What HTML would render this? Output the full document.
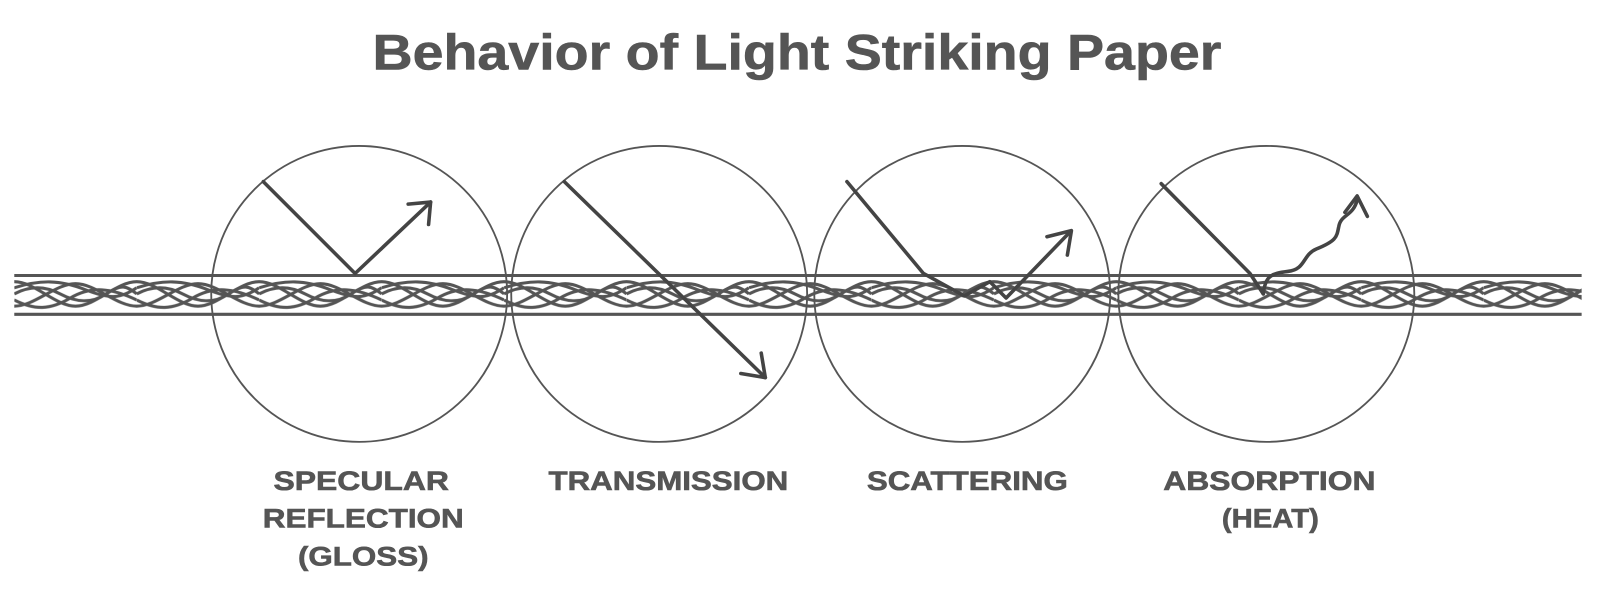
<!DOCTYPE html>
<html><head><style>
html,body{margin:0;padding:0;background:#fff;}
svg{display:block;}
text{font-family:"Liberation Sans",Arial,sans-serif;font-weight:bold;fill:#555;stroke:#555;stroke-width:0.6;}
</style></head><body>
<svg width="1600" height="598" viewBox="0 0 1568 586" preserveAspectRatio="none" xmlns="http://www.w3.org/2000/svg">
<defs>
<pattern id="weave" x="14" y="270" width="120" height="38" patternUnits="userSpaceOnUse">
<g fill="none" stroke="#555" stroke-width="3">
<path d="M0 6 C20 6 40 30 60 30 S100 6 120 6"/>
<path d="M0 30 C20 30 40 8 60 8 S100 30 120 30"/>
<path d="M0 18 C15 10 30 10 45 18 S75 28 90 18 S110 10 120 18"/>
<path d="M0 24 C20 34 35 34 55 22 S95 12 120 24"/>
<path d="M0 12 C25 4 45 4 70 14 S105 22 120 12"/>
</g>
</pattern>
</defs>

<text x="781" y="68" font-size="49" text-anchor="middle" textLength="832" lengthAdjust="spacingAndGlyphs">Behavior of Light Striking Paper</text>

<rect x="14" y="270" width="1536" height="38" fill="url(#weave)"/>
<line x1="14" y1="270" x2="1550" y2="270" stroke="#555" stroke-width="3"/>
<line x1="14" y1="308" x2="1550" y2="308" stroke="#555" stroke-width="3"/>

<g fill="none" stroke="#555" stroke-width="1.8">
<circle cx="352" cy="288" r="145"/>
<circle cx="646" cy="288" r="145"/>
<circle cx="943" cy="288" r="145"/>
<circle cx="1241" cy="288" r="145"/>
</g>

<g fill="none" stroke="#444" stroke-width="3.5" stroke-linecap="round" stroke-linejoin="round">
<polyline points="258,178 348,268 422,198"/>
<polyline points="400,200 422,198 420,220"/>
<line x1="553" y1="178" x2="750" y2="370"/>
<polyline points="726,366 750,370 746,346"/>
<polyline points="830,178 905,268 945,290 970,276 986,292 1048,228"/>
<polyline points="1026,232 1050,226 1046,250"/>
<polyline points="1138,180 1225,268 1238,288"/>
<path d="M1238,288 C1240,270 1246,268 1262,266 C1280,264 1276,250 1290,244 C1310,236 1310,232 1312,222 C1314,210 1326,212 1330,196"/>
<polyline points="1318,208 1330,192 1340,212"/>
</g>

<g font-size="26">
<text x="354" y="480" text-anchor="middle" textLength="172" lengthAdjust="spacingAndGlyphs">SPECULAR</text>
<text x="356" y="517" text-anchor="middle" textLength="197" lengthAdjust="spacingAndGlyphs">REFLECTION</text>
<text x="356" y="554" text-anchor="middle" textLength="128" lengthAdjust="spacingAndGlyphs">(GLOSS)</text>
<text x="655" y="480" text-anchor="middle" textLength="235" lengthAdjust="spacingAndGlyphs">TRANSMISSION</text>
<text x="948" y="480" text-anchor="middle" textLength="197" lengthAdjust="spacingAndGlyphs">SCATTERING</text>
<text x="1244" y="480" text-anchor="middle" textLength="208" lengthAdjust="spacingAndGlyphs">ABSORPTION</text>
<text x="1245" y="517" text-anchor="middle" textLength="95" lengthAdjust="spacingAndGlyphs">(HEAT)</text>
</g>
</svg>
</body></html>
